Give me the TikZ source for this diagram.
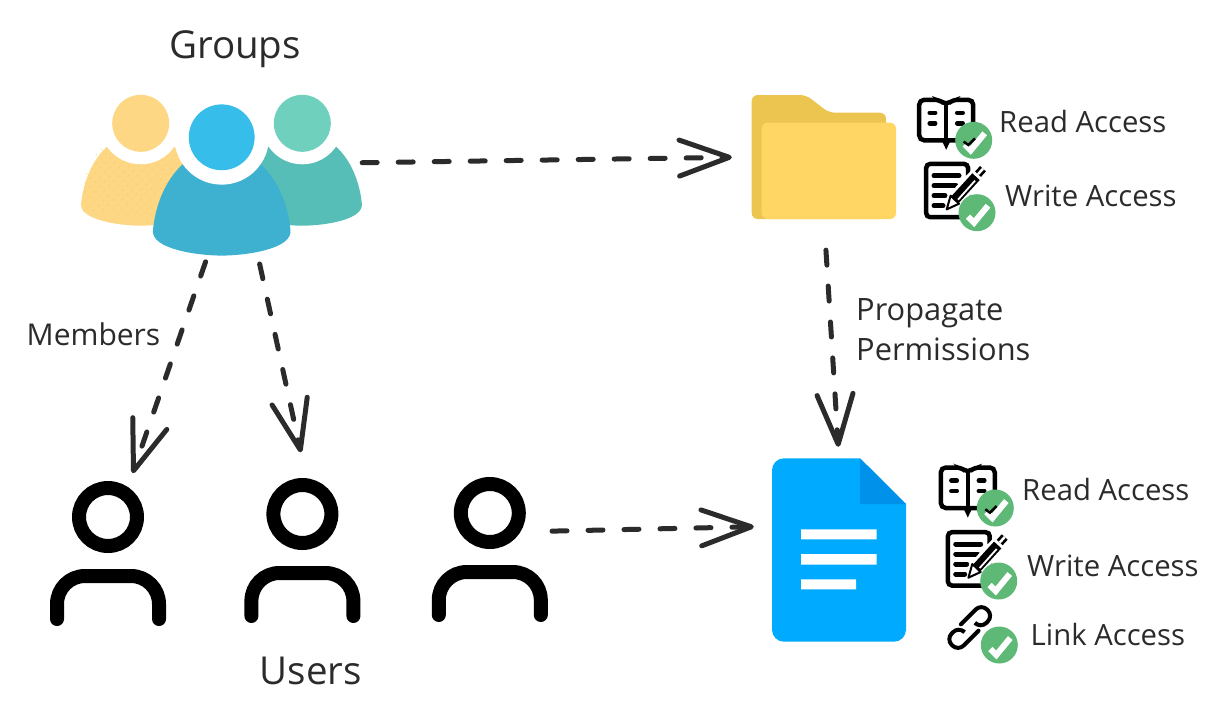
\documentclass[tikz,border=0pt]{standalone}
\usepackage{fontspec}
\setmainfont{Open Sans}
\usepackage{tikz}
\usetikzlibrary{arrows.meta, positioning, patterns.meta}
\definecolor{inkgrey}{HTML}{2B2B2B}
\definecolor{yellowbody}{HTML}{FDD783}
\definecolor{yellowdot}{HTML}{F6C558}
\definecolor{tealhead}{HTML}{6FD0BD}
\definecolor{tealbody}{HTML}{56BDB7}
\definecolor{bluehead}{HTML}{36BDEA}
\definecolor{bluebody}{HTML}{3EB0D0}
\definecolor{folderback}{HTML}{ECC551}
\definecolor{folderfront}{HTML}{FFD664}
\definecolor{docblue}{HTML}{00AAFF}
\definecolor{docfold}{HTML}{0091EA}
\definecolor{okgreen}{HTML}{5DB975}
\tikzset{
  pics/crowdperson/.style n args={3}{code={
    \fill[#2] (-59.5,80) .. controls (-56,45) and (-35,10) .. (0,10)
      .. controls (35,10) and (56,45) .. (59.5,80)
      .. controls (62,97) and (20,102.4) .. (0,102.4)
      .. controls (-20,102.4) and (-62,97) .. cycle;
    #3
    \fill[white] (0,0) circle[radius=41];
    \fill[#1] (0,0) circle[radius=28.5];
  }},
  pics/plainuser/.style={code={
    \draw[line width=14pt] (0,-36) circle[radius=29];
    \draw[line width=14pt, line cap=round, rounded corners=28pt]
      (-51,66) -- (-51,23) -- (51,23) -- (51,66);
  }},
  pics/okbadge/.style={code={
    \fill[okgreen] (0,0) circle[radius=18.5];
    \draw[white, line width=6pt] (-9,4) -- (-3,10) -- (11,-7);
  }},
  pics/bookicon/.style={code={
    \draw[line width=4.5pt, rounded corners=5pt] (29.5,8) -- (23,2.5) -- (2.5,2.5)
      -- (2.5,43) -- (56.5,43) -- (56.5,2.5) -- (36,2.5) -- cycle;
    \draw[line width=4pt] (29.5,8) -- (29.5,43);
    \fill (25,43) -- (34,43) -- (29.5,52.5) -- cycle;
    \draw[line width=4.5pt, line cap=round] (13,15.5) -- (18.5,15.5) (13,26) -- (18.5,26)
      (40.5,15.5) -- (46,15.5) (40.5,26) -- (46,26);
    \pic at (57,43) {okbadge};
    \draw[line width=2.5pt] (47,44.3) -- (51.7,47.7) -- (58.3,41);
  }},
  pics/writeicon/.style={code={
    \draw[line width=4.5pt, rounded corners=4pt] (44,14) -- (44,2.2) -- (2.2,2.2)
      -- (2.2,55.5) -- (44,55.5) -- (44,30);
    \draw[line width=5pt, line cap=round] (10,14) -- (35,14) (10,24) -- (32,24)
      (10,34) -- (21,34) (10,44) -- (19,44);
    \draw[white, line width=16pt] (29,40) -- (56,11);
    \draw[line width=10pt] (31,38) -- (52,15);
    \draw[white, line width=1.8pt] (34,38) -- (51,19);
    \draw[line width=2pt, fill=white, line join=round] (22.7,47.7) -- (35,42) -- (26.6,34) -- cycle;
    \draw[line width=8pt] (54,12.5) -- (59,7);
    \draw[white, line width=2.5pt] (54,12.5) -- (59,7);
    \fill (44.5,52) circle[radius=3.5];
    \pic at (53,51) {okbadge};
  }},
  pics/linkicon/.style={code={
    \begin{scope}[rotate=45, line width=4pt, line cap=round, rounded corners=8pt]
      \draw (-4,-8.5) -- (25,-8.5) -- (25,8.5) -- (7,8.5) -- (7,2);
      \draw (4,8.5) -- (-25,8.5) -- (-25,-8.5) -- (-7,-8.5) -- (-7,-2);
    \end{scope}
  }},
  lbltext/.style={inner sep=0pt, text=inkgrey, font=\fontsize{29.3}{39}\selectfont}
}
\begin{document}
\begin{tikzpicture}[x=1pt, y=-1pt,
  boxsize/.style 2 args={inner sep=0pt, minimum width=#1, minimum height=#2},
  flow/.style={-{Straight Barb[length=50pt, width=36pt, round]}, line width=5pt,
    draw=inkgrey, line cap=round, dash pattern=on 15pt off 21pt}]
  \useasboundingbox (0,0) rectangle (1221,715);
  % icon boxes
  \node[boxsize={280pt}{160pt}] (grp) at (222,175) {};
  \node[boxsize={144pt}{124pt}] (folder) at (824,157) {};
  \node[boxsize={134pt}{183pt}] (doc) at (839,549.5) {};
  \node[boxsize={116pt}{146pt}] (user1) at (108,553) {};
  \node[boxsize={116pt}{146pt}, right=78pt of user1, yshift=3pt] (user2) {};
  \node[boxsize={116pt}{146pt}, right=71pt of user2, yshift=1pt] (user3) {};
  % group
  \pic at (140.7,123.3) {crowdperson={yellowbody}{yellowbody}{
    \fill[pattern={Dots[radius=0.6pt, distance=6.5pt, angle=45]}, pattern color=yellowdot]
      (-56,46) -- (-40,25) -- (40,25) -- (58,90) -- (-58,90) -- cycle;}};
  \pic at (302.3,123.3) {crowdperson={tealhead}{tealbody}{}};
  \pic[scale=1.155] at (221.7,137.3) {crowdperson={bluehead}{bluebody}{}};
  % folder
  \fill[folderback, rounded corners=6pt] (751.7,219) -- (751.7,95) -- (806,95)
    -- (829,112.7) -- (886,112.7) -- (886,219) -- cycle;
  \fill[folderfront, rounded corners=6pt] (761.7,219) rectangle (896,122.7);
  % document
  \fill[docblue] (860,458.3) [rounded corners=12pt] -- (772,458.3) -- (772,641.7)
    -- (906,641.7) -- (906,620) [sharp corners] -- (906,504) -- cycle;
  \fill[docfold] (860,458.3) -- (906,504) -- (860,504) -- cycle;
  \fill[white] (801,529.3) rectangle (876.7,539.3) (801,554) rectangle (876.7,564.7)
    (801,579.3) rectangle (856,589.3);
  % users
  \pic at (user1) {plainuser};
  \pic at (user2) {plainuser};
  \pic at (user3) {plainuser};
  % access icons
  \pic at (916.7,97.3) {bookicon};
  \pic at (924,161.7) {writeicon};
  \pic at (938.3,465) {bookicon};
  \pic at (945.7,530) {writeicon};
  \pic at (969.7,627.5) {linkicon};
  \pic at (999.3,645) {okbadge};
  % labels
  \node[lbltext, font=\fontsize{38.5}{43}\selectfont] (groupslbl) at (235,49) {Groups};
  \node[lbltext, font=\fontsize{38.5}{43}\selectfont] (userslbl) at (311,671) {Users};
  \node[lbltext, font=\fontsize{30}{40}\selectfont] (memberslbl) at (93.5,334) {Members};
  \node[lbltext, align=left, anchor=west, font=\fontsize{30.8}{40}\selectfont] (proplbl) at (856,330) {Propagate\\Permissions};
  \node[lbltext, anchor=base west] (read1) at (999,132.7) {Read Access};
  \node[lbltext, anchor=base west] (write1) at (1005,206) {Write Access};
  \node[lbltext, anchor=base west] (read2) at (1022,500.3) {Read Access};
  \node[lbltext, anchor=base west] (write2) at (1027,576) {Write Access};
  \node[lbltext, anchor=base west] (link2) at (1030.5,645.3) {Link Access};
  % connectors
  \draw[flow, shorten <=0pt, shorten >=20pt] (grp.5) -- (folder.west);
  \draw[flow, shorten <=31pt, shorten >=11pt] (folder.south) -- (doc.north);
  \draw[flow, shorten <=7pt, shorten >=7pt] (grp.-100) -- (user1.73);
  \draw[flow, shorten <=9pt, shorten >=25pt] (grp.-66) -- (user2.87);
  \draw[flow, shorten <=4pt, shorten >=18pt] (user3.17) -- (doc.161);
\end{tikzpicture}
\end{document}
